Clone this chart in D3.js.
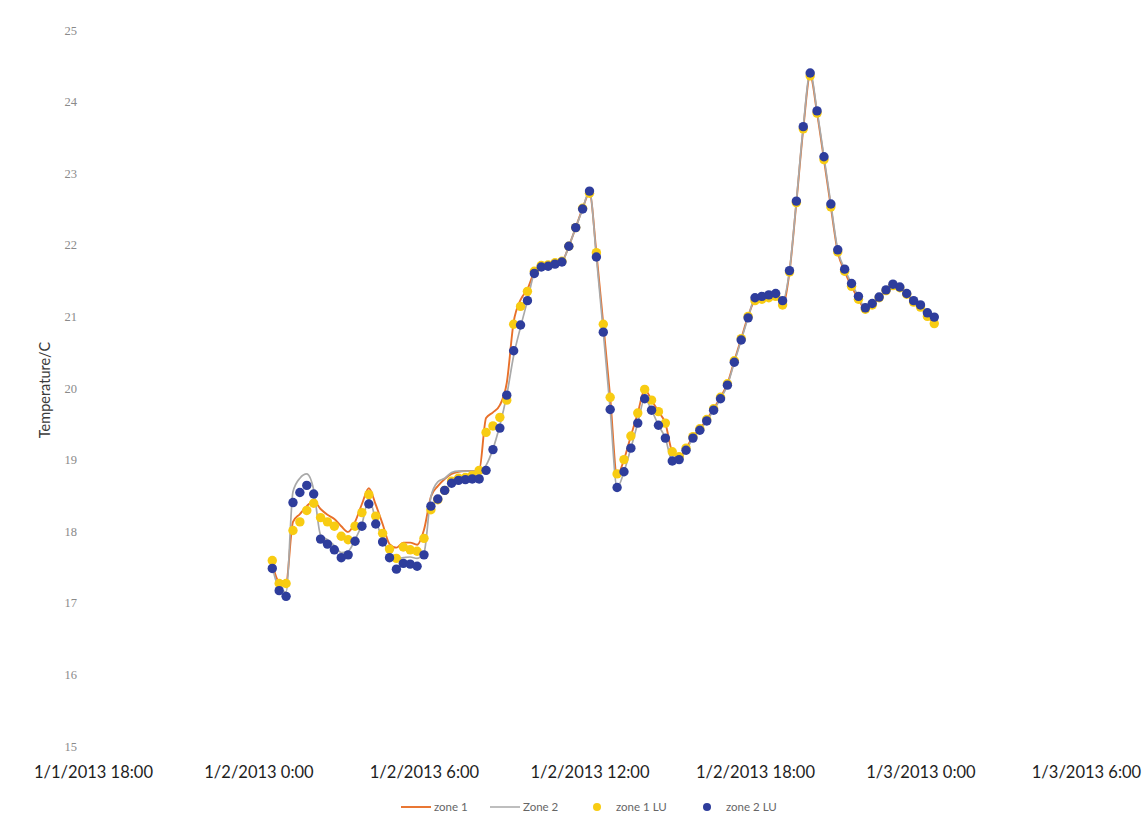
<!DOCTYPE html>
<html>
<head>
<meta charset="utf-8">
<script src="https://cdn.jsdelivr.net/npm/d3@7"></script>
<style>
  html, body { margin: 0; padding: 0; background: #fff; }
  svg { display: block; font-family: Lato, "Open Sans", sans-serif; }
</style>
</head>
<body>
<svg id="chart" width="1146" height="829"></svg>
<script>
// Room temperature readings, 15-minute samples from 1/2/2013 0:30
const sampleStart = "1/2/2013 0:30";
const sampleStepMinutes = 15;

const zone1 = [17.55, 17.30, 17.30, 18.13, 18.24, 18.35, 18.42, 18.31, 18.23, 18.17,
  18.07, 17.99, 18.13, 18.38, 18.60, 18.37, 18.10, 17.82, 17.77, 17.84,
  17.84, 17.81, 18.02, 18.48, 18.63, 18.73, 18.80, 18.83, 18.84, 18.84,
  18.85, 19.58, 19.66, 19.76, 20.07, 20.92, 21.23, 21.38, 21.62, 21.71,
  21.72, 21.75, 21.77, 21.98, 22.24, 22.51, 22.72, 21.89, 20.89, 19.87,
  18.78, 19.00, 19.33, 19.65, 19.98, 19.83, 19.67, 19.51, 19.11, 19.04,
  19.16, 19.32, 19.43, 19.56, 19.71, 19.87, 20.06, 20.38, 20.69, 21.00,
  21.22, 21.24, 21.26, 21.28, 21.16, 21.62, 22.59, 23.62, 24.36, 23.84,
  23.19, 22.53, 21.90, 21.63, 21.42, 21.24, 21.10, 21.16, 21.26, 21.36,
  21.43, 21.40, 21.31, 21.20, 21.13, 21.00, 20.90];

const zone2 = [17.50, 17.20, 17.15, 18.55, 18.74, 18.80, 18.58, 17.95, 17.88, 17.80,
  17.70, 17.72, 17.88, 18.10, 18.45, 18.16, 17.88, 17.70, 17.62, 17.63,
  17.64, 17.62, 17.70, 18.48, 18.69, 18.74, 18.82, 18.84, 18.84, 18.84,
  18.84, 18.92, 19.15, 19.48, 19.90, 20.45, 20.85, 21.22, 21.60, 21.69,
  21.70, 21.73, 21.76, 21.98, 22.24, 22.50, 22.75, 21.83, 20.78, 19.70,
  18.61, 18.83, 19.16, 19.51, 19.85, 19.69, 19.48, 19.30, 18.98, 19.00,
  19.13, 19.30, 19.41, 19.54, 19.69, 19.85, 20.04, 20.36, 20.67, 20.98,
  21.26, 21.28, 21.30, 21.32, 21.22, 21.64, 22.61, 23.65, 24.40, 23.87,
  23.23, 22.57, 21.93, 21.66, 21.46, 21.28, 21.12, 21.18, 21.27, 21.37,
  21.45, 21.41, 21.32, 21.22, 21.16, 21.05, 20.99];

const zone1LU = [17.59, 17.27, 17.27, 18.01, 18.13, 18.29, 18.39, 18.19, 18.13, 18.07,
  17.93, 17.88, 18.07, 18.26, 18.51, 18.21, 17.97, 17.75, 17.62, 17.78,
  17.74, 17.72, 17.90, 18.30, 18.44, 18.57, 18.70, 18.74, 18.75, 18.78,
  18.85, 19.38, 19.47, 19.59, 19.83, 20.89, 21.14, 21.35, 21.63, 21.71,
  21.72, 21.75, 21.77, 21.98, 22.24, 22.51, 22.72, 21.89, 20.89, 19.87,
  18.80, 19.00, 19.33, 19.65, 19.98, 19.83, 19.67, 19.51, 19.11, 19.04,
  19.16, 19.32, 19.43, 19.56, 19.71, 19.87, 20.06, 20.38, 20.69, 21.00,
  21.22, 21.24, 21.26, 21.28, 21.16, 21.62, 22.59, 23.62, 24.36, 23.84,
  23.19, 22.53, 21.90, 21.63, 21.42, 21.24, 21.10, 21.16, 21.26, 21.36,
  21.43, 21.40, 21.31, 21.20, 21.13, 21.00, 20.90];

const zone2LU = [17.48, 17.17, 17.09, 18.40, 18.54, 18.64, 18.52, 17.89, 17.82, 17.74,
  17.63, 17.67, 17.86, 18.07, 18.38, 18.10, 17.85, 17.63, 17.47, 17.55,
  17.54, 17.51, 17.67, 18.35, 18.45, 18.57, 18.67, 18.71, 18.72, 18.73,
  18.73, 18.85, 19.14, 19.44, 19.90, 20.52, 20.88, 21.22, 21.60, 21.69,
  21.70, 21.73, 21.76, 21.98, 22.24, 22.50, 22.75, 21.83, 20.78, 19.70,
  18.61, 18.83, 19.16, 19.51, 19.85, 19.69, 19.48, 19.30, 18.98, 19.00,
  19.13, 19.30, 19.41, 19.54, 19.69, 19.85, 20.04, 20.36, 20.67, 20.98,
  21.26, 21.28, 21.30, 21.32, 21.22, 21.64, 22.61, 23.65, 24.40, 23.87,
  23.23, 22.57, 21.93, 21.66, 21.46, 21.28, 21.12, 21.18, 21.27, 21.37,
  21.45, 21.41, 21.32, 21.22, 21.16, 21.05, 20.99];

const xTickLabels = ["1/1/2013 18:00", "1/2/2013 0:00", "1/2/2013 6:00", "1/2/2013 12:00",
  "1/2/2013 18:00", "1/3/2013 0:00", "1/3/2013 6:00"];
const yTicks = [15, 16, 17, 18, 19, 20, 21, 22, 23, 24, 25];
const seriesNames = ["zone 1", "Zone 2", "zone 1 LU", "zone 2 LU"];

const colors = {
  zone1: "#E8702A",
  zone2: "#A9A9A9",
  zone1LU: "#F8CC12",
  zone2LU: "#2E3D9C"
};

const parseTime = d3.timeParse("%m/%d/%Y %H:%M");
const t0 = parseTime(sampleStart);
const times = zone2LU.map((_, i) => d3.timeMinute.offset(t0, i * sampleStepMinutes));
const tickDates = xTickLabels.map(parseTime);

const svg = d3.select("#chart");

const x = d3.scaleTime()
  .domain([tickDates[0], tickDates[tickDates.length - 1]])
  .range([93, 1086]);
const y = d3.scaleLinear().domain([15, 25]).range([746, 30]);

// y axis: labels only
const yAxis = svg.append("g")
  .attr("transform", "translate(79,0)")
  .call(d3.axisLeft(y).tickValues(yTicks).tickSize(0).tickPadding(2).tickFormat(d3.format("d")));
yAxis.select(".domain").remove();
yAxis.selectAll("text")
  .attr("fill", "#8a8a8a")
  .style("font-size", "12.5px")
  .style("font-family", "'Liberation Serif', 'DejaVu Serif', serif");

// x axis: labels only
const xAxis = svg.append("g")
  .attr("transform", "translate(0,762)")
  .call(d3.axisBottom(x).tickValues(tickDates).tickSize(0).tickPadding(4)
    .tickFormat((d, i) => xTickLabels[i]));
xAxis.select(".domain").remove();
xAxis.selectAll("text")
  .attr("fill", "#1e1e1e")
  .style("font-size", "16.5px")
  .style("font-family", "Lato, sans-serif");

// y axis title
svg.append("text")
  .attr("transform", "translate(50,390) rotate(-90)")
  .attr("text-anchor", "middle")
  .attr("fill", "#3a3a3a")
  .style("font-size", "14.5px")
  .text("Temperature/C");

const line = d3.line()
  .x((d, i) => x(times[i]))
  .y(d => y(d))
  .curve(d3.curveMonotoneX);

svg.append("path")
  .datum(zone1)
  .attr("fill", "none")
  .attr("stroke", colors.zone1)
  .attr("stroke-width", 1.9)
  .attr("d", line);

svg.append("path")
  .datum(zone2)
  .attr("fill", "none")
  .attr("stroke", colors.zone2)
  .attr("stroke-width", 1.7)
  .attr("d", line);

svg.append("g").selectAll("circle")
  .data(zone1LU)
  .join("circle")
  .attr("cx", (d, i) => x(times[i]))
  .attr("cy", d => y(d))
  .attr("r", 4.7)
  .attr("fill", colors.zone1LU);

svg.append("g").selectAll("circle")
  .data(zone2LU)
  .join("circle")
  .attr("cx", (d, i) => x(times[i]))
  .attr("cy", d => y(d))
  .attr("r", 4.7)
  .attr("fill", colors.zone2LU);

// legend
const legend = svg.append("g").attr("transform", "translate(0,807)");
const legendItems = [
  { name: seriesNames[0], kind: "line", color: colors.zone1, x: 401 },
  { name: seriesNames[1], kind: "line", color: colors.zone2, x: 490 },
  { name: seriesNames[2], kind: "dot", color: colors.zone1LU, x: 597 },
  { name: seriesNames[3], kind: "dot", color: colors.zone2LU, x: 707 }
];
legendItems.forEach(item => {
  const g = legend.append("g");
  let textX;
  if (item.kind === "line") {
    g.append("line")
      .attr("x1", item.x).attr("x2", item.x + 30)
      .attr("y1", 0).attr("y2", 0)
      .attr("stroke", item.color)
      .attr("stroke-width", item.color === colors.zone1 ? 1.9 : 1.5);
    textX = item.x + 33;
  } else {
    g.append("circle")
      .attr("cx", item.x).attr("cy", 0).attr("r", 4)
      .attr("fill", item.color);
    textX = item.x + 19;
  }
  g.append("text")
    .attr("x", textX)
    .attr("y", 0)
    .attr("dy", "0.35em")
    .attr("fill", "#666")
    .style("font-size", "11.5px")
    .text(item.name);
});
</script>
</body>
</html>
